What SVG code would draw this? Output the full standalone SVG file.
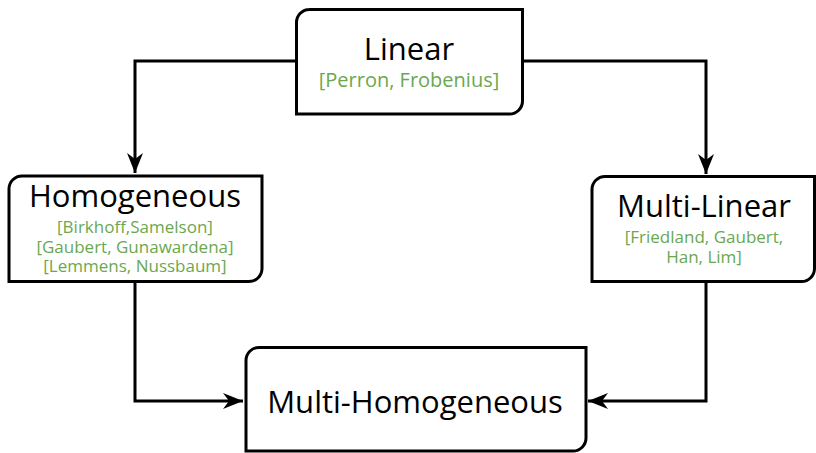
<svg xmlns="http://www.w3.org/2000/svg" width="816" height="453" viewBox="0 0 816 453">
<style>
.box{fill:#fff;stroke:#000;stroke-width:3}
.t{font-family:"Open Sans","Noto Sans",sans-serif;font-size:31px;fill:#000;text-anchor:middle}
.g{font-family:"Open Sans","Noto Sans",sans-serif;font-size:17px;fill:#6aa84f;text-anchor:middle}
.c{fill:none;stroke:#000;stroke-width:3}
</style>
<defs>
<marker id="arr" markerUnits="userSpaceOnUse" markerWidth="24" markerHeight="20" viewBox="-22 -10 24 20" refX="0" refY="0" orient="auto">
<path d="M0,0 L-20,-8 L-14,0 L-20,8 Z" fill="#000"/>
</marker>
</defs>
<g id="connectors">
<path class="c" d="M296,61 H135 V173" marker-end="url(#arr)"/>
<path class="c" d="M523,61 H706 V174" marker-end="url(#arr)"/>
<path class="c" d="M135,282 V401 H243" marker-end="url(#arr)"/>
<path class="c" d="M706,282 V401 H588" marker-end="url(#arr)"/>
</g>
<g id="linear">
<path class="box" d="M309,9.5 H522.5 V101 A13,13 0 0 1 509.5,114 H296.5 V22.5 A13,13 0 0 1 309.5,9.5 Z"/>
<text class="t" x="409" y="60">Linear</text>
<text class="g" x="409" y="87" style="font-size:20px">[Perron, Frobenius]</text>
</g>
<g id="homogeneous">
<path class="box" d="M22,176 H262 V268.5 A13,13 0 0 1 249,281.5 H9 V189 A13,13 0 0 1 22,176 Z"/>
<text class="t" x="135" y="207">Homogeneous</text>
<text class="g" x="135" y="233">[Birkhoff,Samelson]</text>
<text class="g" x="135" y="252.5">[Gaubert, Gunawardena]</text>
<text class="g" x="135" y="272">[Lemmens, Nussbaum]</text>
</g>
<g id="multilinear">
<path class="box" d="M605,176.5 H814.5 V268.5 A13,13 0 0 1 801.5,281.5 H592 V189.5 A13,13 0 0 1 605,176.5 Z"/>
<text class="t" x="704" y="217">Multi-Linear</text>
<text class="g" x="704" y="243">[Friedland, Gaubert,</text>
<text class="g" x="704" y="263">Han, Lim]</text>
</g>
<g id="multihomogeneous">
<path class="box" d="M259,347.5 H586 V438 A13,13 0 0 1 573,451 H246 V360.5 A13,13 0 0 1 259,347.5 Z"/>
<text class="t" x="415" y="413">Multi-Homogeneous</text>
</g>
</svg>
